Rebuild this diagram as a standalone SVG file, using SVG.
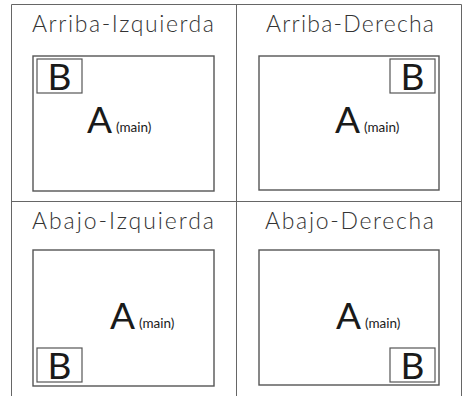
<svg xmlns="http://www.w3.org/2000/svg" width="465" height="396" viewBox="0 0 465 396">
<style>
.grid{stroke:#666;stroke-width:1;fill:none}
.scr{stroke:#555;stroke-width:1.4;fill:#fff}
.pip{stroke:#555;stroke-width:1.2;fill:#fff}
.title{font-family:Lato,"Noto Sans",sans-serif;font-weight:300;font-size:23px;fill:#333;text-anchor:middle}
.big{font-family:Lato,"Noto Sans",sans-serif;font-size:37px;fill:#1a1a1a}
.bl{text-anchor:middle}
.small{font-family:Lato,"Noto Sans",sans-serif;font-size:13.5px;fill:#1a1a1a}
</style>
<rect width="465" height="396" fill="#fff"/>
<g id="connectors">
<path class="grid" d="M11.5,396 V4.5 H461.5 V396 M236.5,4.5 V396 M11.5,201.5 H461.5"/>
</g>
<g id="arriba-izquierda">
<text class="title" x="123" y="32" textLength="182">Arriba-Izquierda</text>
<rect class="scr" x="33" y="56" width="181" height="135"/>
<rect class="pip" x="37" y="59" width="45" height="34"/>
<text class="big bl" x="59.5" y="90">B</text>
<text class="big" x="87" y="133">A</text>
<text class="small" x="116" y="132">(main)</text>
</g>
<g id="arriba-derecha">
<text class="title" x="350" y="32" textLength="168">Arriba-Derecha</text>
<rect class="scr" x="259" y="56" width="180" height="134"/>
<rect class="pip" x="390" y="59" width="45" height="34"/>
<text class="big bl" x="412.5" y="90">B</text>
<text class="big" x="335" y="133">A</text>
<text class="small" x="364" y="132">(main)</text>
</g>
<g id="abajo-izquierda">
<text class="title" x="123" y="229" textLength="182">Abajo-Izquierda</text>
<rect class="scr" x="33" y="250" width="181" height="136"/>
<rect class="pip" x="37" y="348" width="45" height="34"/>
<text class="big bl" x="59.5" y="379">B</text>
<text class="big" x="110" y="329">A</text>
<text class="small" x="139" y="328">(main)</text>
</g>
<g id="abajo-derecha">
<text class="title" x="349.5" y="229" textLength="169">Abajo-Derecha</text>
<rect class="scr" x="259" y="250" width="180" height="135"/>
<rect class="pip" x="390" y="348" width="45" height="34"/>
<text class="big bl" x="412.5" y="379">B</text>
<text class="big" x="336" y="329">A</text>
<text class="small" x="365" y="328">(main)</text>
</g>
</svg>
